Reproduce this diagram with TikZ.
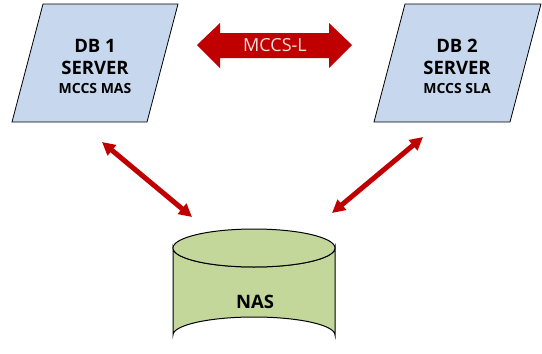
\documentclass[tikz,border=0pt]{standalone}
\usepackage{fontspec}
\setmainfont{Open Sans}
\usetikzlibrary{arrows.meta}
\definecolor{srvfill}{HTML}{C6D7EE}
\definecolor{nasfill}{HTML}{C4D79B}
\definecolor{linkred}{HTML}{C00000}
\definecolor{linktext}{HTML}{F4DEDE}
\tikzset{
  server/.style={draw=black, line width=0.8pt, fill=srvfill},
  nasbody/.style={draw=black, line width=1pt, fill=nasfill},
  big/.style={font=\bfseries\fontsize{18.5}{22}\selectfont, inner sep=0pt},
  small/.style={font=\bfseries\fontsize{14}{16}\selectfont, inner sep=0pt},
  sync/.style={draw=linkred, line width=5pt,
    {Triangle[length=13pt,width=13pt]}-{Triangle[length=13pt,width=13pt]}},
}
\begin{document}
\begin{tikzpicture}[x=1pt,y=-1pt]
\useasboundingbox (0,0) rectangle (542,354);

% DB 1 server
\draw[server] (43,4) -- (178,4) -- (147,122) -- (12,122) -- cycle;
\node[big] (db1) at (95,46) {DB 1};
\node[big] (db1srv) at (95,68) {SERVER};
\node[small] (db1role) at (95,88) {MCCS MAS};

% DB 2 server
\draw[server] (405,4) -- (541,4) -- (510,122) -- (374,122) -- cycle;
\node[big] (db2) at (457,46) {DB 2};
\node[big] (db2srv) at (457,68) {SERVER};
\node[small] (db2role) at (457,88) {MCCS SLA};

% replication link between the servers
\fill[linkred] (197,45) -- (220,23) -- (220,33) -- (329,33) -- (329,23)
  -- (352,45) -- (329,68) -- (329,58) -- (220,58) -- (220,68) -- cycle;
\node[text=linktext, font=\fontsize{18}{21}\selectfont, inner sep=0pt]
  (link) at (275,45) {MCCS-L};

% NAS storage cylinder
\draw[nasbody] (173,248) -- (173,335) arc[start angle=180, end angle=360,
  x radius=81, y radius=18] -- (335,248) arc[start angle=0, end angle=180,
  x radius=81, y radius=19] -- cycle;
\draw[nasbody] (254,248) ellipse[x radius=81, y radius=19];
\node[big] (nas) at (255,302) {NAS};

% connections to the NAS
\coordinate (l1) at (102,142);
\coordinate (l2) at (192,217);
\coordinate (r1) at (423,137);
\coordinate (r2) at (332,213);
\draw[sync] (l1) -- (l2);
\draw[sync] (r1) -- (r2);
\end{tikzpicture}
\end{document}
